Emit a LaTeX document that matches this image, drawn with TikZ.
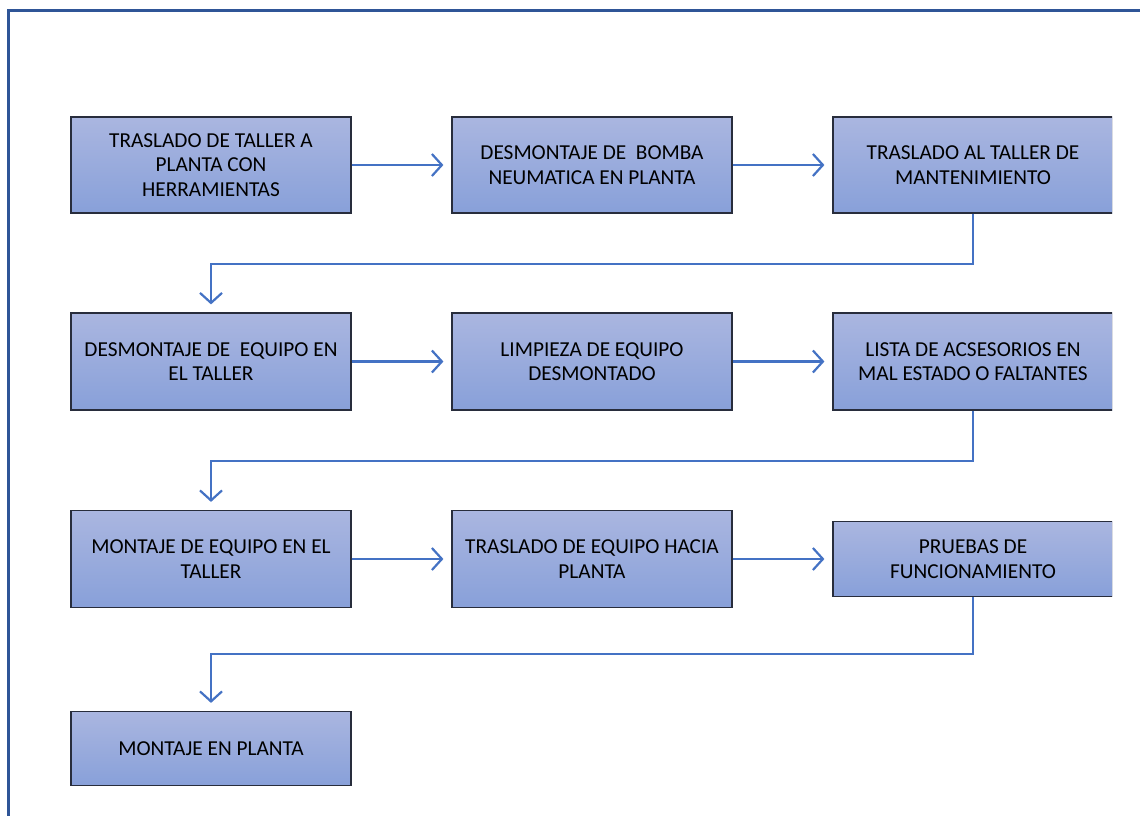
\documentclass[tikz,border=0pt]{standalone}
\usepackage{fontspec}
\setmainfont{Carlito}
\usetikzlibrary{arrows.meta}
\definecolor{framec}{RGB}{47,85,151}
\definecolor{connc}{RGB}{68,114,196}
\definecolor{boxtop}{RGB}{170,182,224}
\definecolor{boxbot}{RGB}{136,160,217}
\definecolor{boxline}{RGB}{40,45,60}
\begin{document}
\begin{tikzpicture}[x=1pt,y=-1pt,
  stepbox/.style={draw=boxline, line width=1.2pt, top color=boxtop, bottom color=boxbot,
    minimum width=280pt, align=center, inner sep=0pt,
    font=\fontsize{21.3}{24.5}\selectfont, text=black},
  conn/.style={draw=connc, line width=2.2pt,
    -{Straight Barb[length=10pt,width=22pt,line width=2.2pt]}}]
\useasboundingbox (0,0) rectangle (1140,816);
\clip (0,0) rectangle (1140,816);
\fill[white] (0,0) rectangle (1140,816);
\draw[framec, line width=3pt] (8,830) -- (8,11) -- (1150,11);

\node[stepbox, minimum height=96pt] (a1) at (211,165) {TRASLADO DE TALLER A\\PLANTA CON\\HERRAMIENTAS};
\node[stepbox, minimum height=96pt] (a2) at (592,165) {DESMONTAJE DE\ \ BOMBA\\NEUMATICA EN PLANTA};
\node[stepbox, minimum height=97pt] (b1) at (211,361.5) {DESMONTAJE DE\ \ EQUIPO EN\\EL TALLER};
\node[stepbox, minimum height=97pt] (b2) at (592,361.5) {LIMPIEZA DE EQUIPO\\DESMONTADO};
\node[stepbox, minimum height=97pt] (c1) at (211,559) {MONTAJE DE EQUIPO EN EL\\TALLER};
\node[stepbox, minimum height=97pt] (c2) at (592,559) {TRASLADO DE EQUIPO HACIA\\PLANTA};
\node[stepbox, minimum height=74pt] (d1) at (211,748.5) {MONTAJE EN PLANTA};
\begin{scope}
\clip (0,0) rectangle (1112,816);
\node[stepbox, minimum height=96pt] (a3) at (973,165) {TRASLADO AL TALLER DE\\MANTENIMIENTO};
\node[stepbox, minimum height=97pt] (b3) at (973,361.5) {LISTA DE ACSESORIOS EN\\MAL ESTADO O FALTANTES};
\node[stepbox, minimum height=75pt] (c3) at (973,559) {PRUEBAS DE\\FUNCIONAMIENTO};
\end{scope}

\draw[conn, shorten >=8pt] (a1.east) -- (a2.west);
\draw[conn, shorten >=8pt] (a2.east) -- (a3.west);
\draw[conn, shorten >=8pt] (a3.south) -- ++(0,50) -| (b1.north);
\draw[conn, shorten >=8pt] (b1.east) -- (b2.west);
\draw[conn, shorten >=8pt] (b2.east) -- (b3.west);
\draw[conn, shorten >=8pt] (b3.south) -- ++(0,50) -| (c1.north);
\draw[conn, shorten >=8pt] (c1.east) -- (c2.west);
\draw[conn, shorten >=8pt] (c2.east) -- (c3.west);
\draw[conn, shorten >=8pt] (c3.south) -- ++(0,57) -| (d1.north);
\end{tikzpicture}
\end{document}
